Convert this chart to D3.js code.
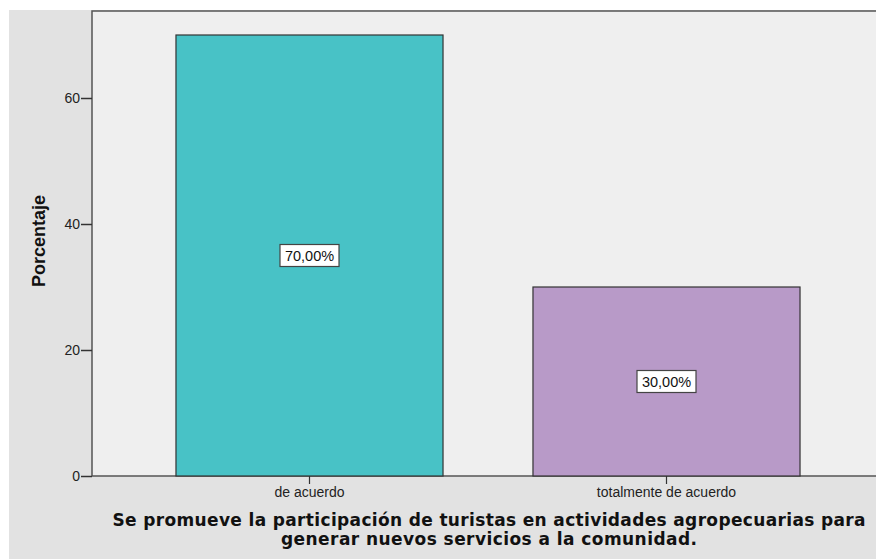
<!DOCTYPE html>
<html>
<head>
<meta charset="utf-8">
<script src="https://cdn.jsdelivr.net/npm/d3@7"></script>
<style>
  body { margin: 0; background: #ffffff; }
  svg { display: block; font-family: "Liberation Sans", Arial, sans-serif; }
</style>
</head>
<body>
<div id="chart"></div>
<script>
// chart data
const categories = ["de acuerdo", "totalmente de acuerdo"];
const percentages = [70, 30];
const valueLabels = ["70,00%", "30,00%"];
const barColors = ["#48c2c6", "#b89ac8"];
const yTicks = [0, 20, 40, 60];

const width = 876, height = 559;
const margin = {top: 11, left: 92, bottom: 476};

const svg = d3.select("#chart")
    .append("svg")
    .attr("width", width)
    .attr("height", height);

// outer gray background
svg.append("rect")
    .attr("x", 9).attr("y", 10)
    .attr("width", width - 9).attr("height", height - 10)
    .attr("fill", "#e2e2e2");

// plot area
svg.append("rect")
    .attr("x", margin.left).attr("y", margin.top)
    .attr("width", width - margin.left + 10)
    .attr("height", margin.bottom - margin.top)
    .attr("fill", "#efefef")
    .attr("stroke", "#555")
    .attr("stroke-width", 1.5);

const x = d3.scaleBand()
    .domain(categories)
    .range([131, 845])
    .paddingInner(0.252)
    .paddingOuter(0.126);

const y = d3.scaleLinear()
    .domain([0, 60])
    .range([margin.bottom, 98]);

// bars
svg.selectAll("rect.bar")
    .data(categories)
    .enter()
    .append("rect")
    .attr("class", "bar")
    .attr("x", d => x(d))
    .attr("y", (d, i) => y(percentages[i]))
    .attr("width", x.bandwidth())
    .attr("height", (d, i) => y(0) - y(percentages[i]))
    .attr("fill", (d, i) => barColors[i])
    .attr("stroke", "#333")
    .attr("stroke-width", 1.2);

// value labels
const lab = svg.selectAll("g.vlabel")
    .data(categories)
    .enter()
    .append("g")
    .attr("class", "vlabel")
    .attr("transform", (d, i) => `translate(${x(d) + x.bandwidth() / 2},${y(percentages[i] / 2)})`);
lab.append("rect")
    .attr("x", -29.5).attr("y", -11)
    .attr("width", 59).attr("height", 22)
    .attr("fill", "#fff")
    .attr("stroke", "#444")
    .attr("stroke-width", 1.2);
lab.append("text")
    .attr("text-anchor", "middle")
    .attr("dy", "0.36em")
    .style("font-size", "14.5px")
    .attr("fill", "#111")
    .text((d, i) => valueLabels[i]);

// y axis
const yAxis = svg.append("g")
    .attr("transform", `translate(${margin.left},0)`)
    .call(d3.axisLeft(y).tickValues(yTicks).tickSize(11).tickPadding(1));
yAxis.select(".domain").remove();
yAxis.selectAll("line").attr("stroke", "#333").attr("stroke-width", 1.5);
yAxis.selectAll("text").style("font-size", "14px").attr("fill", "#222")
    .style("font-family", "'Liberation Sans', Arial, sans-serif");

// x axis
const xAxis = svg.append("g")
    .attr("transform", `translate(0,${margin.bottom})`)
    .call(d3.axisBottom(x).tickSize(8).tickPadding(3));
xAxis.select(".domain").remove();
xAxis.selectAll("line").attr("stroke", "#333").attr("stroke-width", 1.2);
xAxis.selectAll("text").style("font-size", "14px").attr("fill", "#222")
    .style("font-family", "'Liberation Sans', Arial, sans-serif");

// axis titles
svg.append("text")
    .attr("transform", "rotate(-90)")
    .attr("x", -241)
    .attr("y", 45)
    .attr("text-anchor", "middle")
    .style("font-size", "18px")
    .style("font-weight", "bold")
    .attr("fill", "#111")
    .text("Porcentaje");

const title = svg.append("text")
    .attr("text-anchor", "middle")
    .style("font-family", "'DejaVu Sans', sans-serif")
    .style("font-size", "17px")
    .style("font-weight", "bold")
    .attr("fill", "#111");
title.append("tspan").attr("x", 489).attr("y", 526)
    .attr("textLength", 753).attr("lengthAdjust", "spacing")
    .text("Se promueve la participación de turistas en actividades agropecuarias para");
title.append("tspan").attr("x", 489).attr("y", 545)
    .attr("textLength", 416).attr("lengthAdjust", "spacing")
    .text("generar nuevos servicios a la comunidad.");
</script>
</body>
</html>
